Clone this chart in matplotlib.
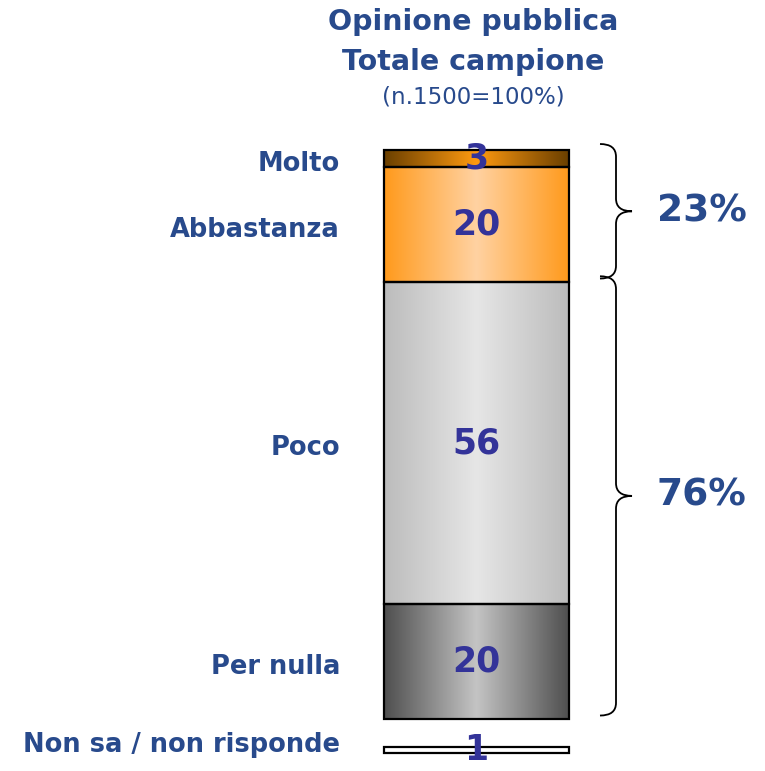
"""
Stacked single bar: Opinione pubblica, totale campione
"""

import numpy as np
import matplotlib
matplotlib.use("Agg")
import matplotlib.pyplot as plt
from matplotlib.colors import LinearSegmentedColormap
from matplotlib.path import Path
from matplotlib.patches import PathPatch

# Data (bottom to top of the stacked bar)
categories = ["Per nulla", "Poco", "Abbastanza", "Molto"]
values = [20, 56, 20, 3]
# Gradient colours: edge, centre
edge_colors = ["#4f4f4f", "#bcbcbc", "#ff9a1c", "#6a3f00"]
center_colors = ["#c4c4c4", "#e6e6e6", "#ffd2a2", "#ff9a10"]

nonsa_label = "Non sa / non risponde"
nonsa_value = 1

groups = [("76%", 0, 2), ("23%", 2, 4)]   # (label, first idx, last idx excl.)

title_lines = ["Opinione pubblica", "Totale campione"]
subtitle = "(n.1500=100%)"

BLUE = "#284a8c"
VALUE_BLUE = "#333399"

# Figure: axes covers everything; x in pixels, y in percentage units
fig = plt.figure(figsize=(7.65, 7.71), dpi=100)
ax = fig.add_axes([0, 0, 1, 1])
px_per_unit = 5.75
y_zero_px = 719
ax.set_xlim(0, 765)
ax.set_ylim(-(771 - y_zero_px) / px_per_unit, y_zero_px / px_per_unit)
ax.set_axis_off()

bar_x0, bar_w = 384, 185
bar_xc = bar_x0 + bar_w / 2

# Stacked segments with horizontal gradient fill
bottoms = np.concatenate([[0], np.cumsum(values)[:-1]])
for cat, val, bot, ec, cc in zip(categories, values, bottoms, edge_colors, center_colors):
    cmap = LinearSegmentedColormap.from_list(cat, [ec, cc, ec])
    grad = np.linspace(0, 1, 256).reshape(1, -1)
    ax.imshow(grad, cmap=cmap, aspect="auto", interpolation="bicubic",
              extent=[bar_x0, bar_x0 + bar_w, bot, bot + val], zorder=1)
    ax.bar(bar_xc, val, bottom=bot, width=bar_w, color="none",
           edgecolor="black", linewidth=1.6, zorder=2)
    ax.text(bar_xc, bot + val / 2, str(val), ha="center", va="center",
            fontsize=25, fontweight="bold", color=VALUE_BLUE, zorder=3)
    ax.text(340, bot + val / 2 - 0.9, cat, ha="right", va="center",
            fontsize=18.5, fontweight="bold", color=BLUE)

# Non sa / non risponde bar, detached below
nonsa_bottom = -5.9
ax.bar(bar_xc, nonsa_value, bottom=nonsa_bottom, width=bar_w, color="white",
       edgecolor="black", linewidth=1.6, zorder=2)
ax.text(bar_xc, nonsa_bottom + nonsa_value / 2, str(nonsa_value), ha="center",
        va="center", fontsize=25, fontweight="bold", color=VALUE_BLUE, zorder=3)
ax.text(340, nonsa_bottom + nonsa_value / 2 + 0.8, nonsa_label, ha="right",
        va="center", fontsize=18.5, fontweight="bold", color=BLUE)


def draw_brace(ax, top, bot, x0=600, xm=616, xt=632, r=2.2):
    mid = (top + bot) / 2
    verts = [(x0, top), (xm, top), (xm, top - r),
             (xm, mid + r), (xm, mid), (xt, mid),
             (xm, mid), (xm, mid - r),
             (xm, bot + r), (xm, bot), (x0, bot)]
    codes = [Path.MOVETO, Path.CURVE3, Path.CURVE3,
             Path.LINETO, Path.CURVE3, Path.CURVE3,
             Path.CURVE3, Path.CURVE3,
             Path.LINETO, Path.CURVE3, Path.CURVE3]
    ax.add_patch(PathPatch(Path(verts, codes), fill=False, edgecolor="black",
                           linewidth=1.3))
    return mid


cum = np.concatenate([[0], np.cumsum(values)])
for label, i0, i1 in groups:
    lo, hi = cum[i0], cum[i1]
    mid = draw_brace(ax, hi + 1.0, lo + 0.6)
    ax.text(657, mid, f"{int(hi - lo)}%", ha="left", va="center",
            fontsize=27, fontweight="bold", color=BLUE)

# Titles
for line, ypx in zip(title_lines, [22, 62]):
    fig.text(473 / 765, 1 - ypx / 771, line, ha="center", va="center",
             fontsize=20.5, fontweight="bold", color=BLUE)
fig.text(473 / 765, 1 - 97 / 771, subtitle, ha="center", va="center",
         fontsize=16.5, color=BLUE)

plt.savefig("out.png", dpi=100)
plt.close()
